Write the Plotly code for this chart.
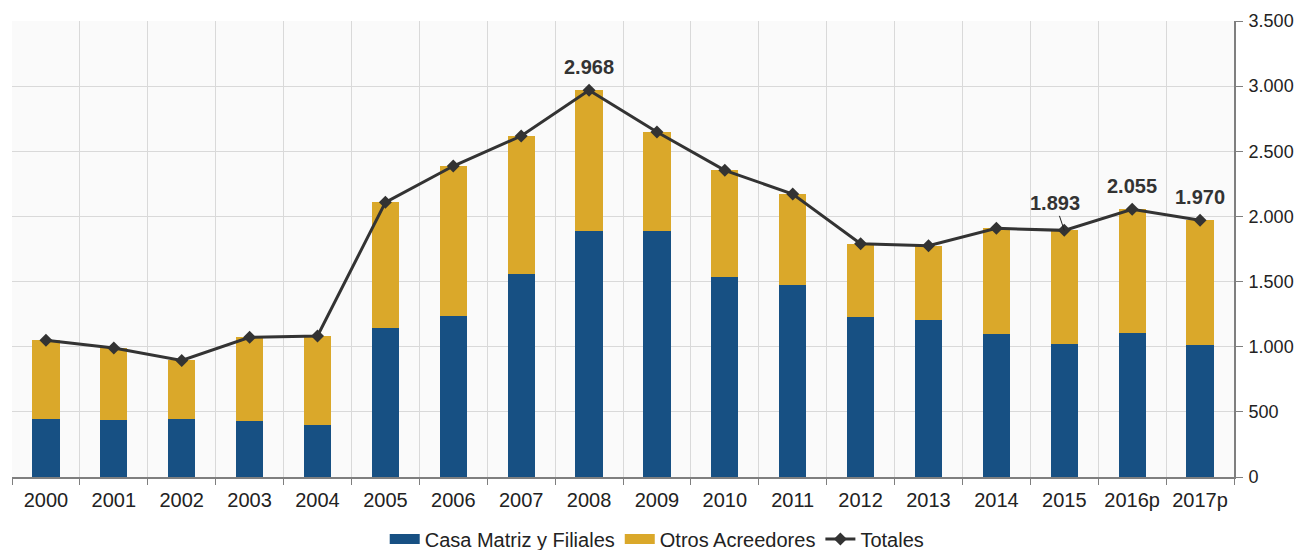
import plotly.graph_objects as go

years = ["2000", "2001", "2002", "2003", "2004", "2005", "2006", "2007", "2008",
         "2009", "2010", "2011", "2012", "2013", "2014", "2015", "2016p", "2017p"]
casa_matriz = [445, 437, 445, 427, 399, 1146, 1236, 1556, 1886, 1890, 1537, 1476,
               1228, 1207, 1100, 1023, 1105, 1013]
otros = [605, 553, 450, 645, 683, 962, 1151, 1061, 1082, 758, 817, 696,
         563, 568, 809, 870, 950, 957]
totales = [1050, 990, 895, 1072, 1082, 2108, 2387, 2617, 2968, 2648, 2354, 2172,
           1791, 1775, 1909, 1893, 2055, 1970]
labeled_years = ["2008", "2015", "2016p", "2017p"]
y_ticks = [0, 500, 1000, 1500, 2000, 2500, 3000, 3500]

BLUE = "#175083"
GOLD = "#DAA82A"
DARK = "#333333"
FONT = "Liberation Sans, Arial, sans-serif"

fig = go.Figure()
fig.add_trace(go.Bar(x=years, y=casa_matriz, name="Casa Matriz y Filiales",
                     marker=dict(color=BLUE, line=dict(width=0)), showlegend=False))
fig.add_trace(go.Bar(x=years, y=otros, name="Otros Acreedores",
                     marker=dict(color=GOLD, line=dict(width=0)), showlegend=False))
fig.add_trace(go.Scatter(x=years, y=totales, name="Totales", mode="lines+markers",
                         line=dict(color=DARK, width=3),
                         marker=dict(symbol="diamond", size=10, color=DARK),
                         showlegend=False))
# legend entries (wide rectangular swatches like the original)
fig.add_trace(go.Scatter(x=[None], y=[None], mode="lines", name="Casa Matriz y Filiales",
                         line=dict(color=BLUE, width=10)))
fig.add_trace(go.Scatter(x=[None], y=[None], mode="lines", name="Otros Acreedores",
                         line=dict(color=GOLD, width=10)))
fig.add_trace(go.Scatter(x=[None], y=[None], mode="lines+markers", name="Totales",
                         line=dict(color=DARK, width=3),
                         marker=dict(symbol="diamond", size=10, color=DARK)))

def fmt(v):
    return f"{v:,}".replace(",", ".")

for yr in labeled_years:
    i = years.index(yr)
    if yr == "2015":
        fig.add_annotation(x=i, y=totales[i], xref="x", yref="y",
                           text="<b>" + fmt(totales[i]) + "</b>",
                           showarrow=True, arrowhead=0, arrowwidth=1, arrowcolor="#222222",
                           ax=-9, ay=-27, standoff=0,
                           font=dict(size=20, color=DARK, family=FONT))
    else:
        fig.add_annotation(x=i, y=totales[i], xref="x", yref="y",
                           text="<b>" + fmt(totales[i]) + "</b>",
                           showarrow=False, yshift=23,
                           font=dict(size=20, color=DARK, family=FONT))

# page body has an 8px margin, so the figure is sized/offset accordingly
fig.update_layout(
    width=1299, height=542,
    barmode="stack", bargap=0.6,
    separators=",.",
    paper_bgcolor="white", plot_bgcolor="#FAFAFA",
    margin=dict(l=4, r=73, t=13, b=73, autoexpand=False),
    font=dict(family=FONT, size=20, color="#222222"),
    showlegend=True,
    legend=dict(orientation="h", x=0.528, xanchor="center", y=-0.179, yanchor="bottom",
                font=dict(size=20, color="#222222"), traceorder="normal",
                itemwidth=30, tracegroupgap=0),
)
fig.update_xaxes(type="category", categoryorder="array", categoryarray=years,
                 range=[-0.5, len(years) - 0.5], autorange=False, automargin=False,
                 tickson="boundaries", showgrid=True, tickangle=0,
                 gridcolor="#D9D9D9", gridwidth=1, showline=True, linecolor="#7F7F7F",
                 linewidth=2, ticks="outside", ticklen=6, tickcolor="#7F7F7F",
                 ticklabelstandoff=4,
                 tickfont=dict(size=20, color="#222222"))
fig.update_yaxes(side="right", range=[0, 3500], tickvals=y_ticks, tickformat=",d",
                 automargin=False,
                 showgrid=True, gridcolor="#D9D9D9", gridwidth=1, zeroline=False,
                 showline=True, linecolor="#7F7F7F", linewidth=2, ticks="outside",
                 ticklen=7, tickcolor="#7F7F7F", ticklabelstandoff=2,
                 tickfont=dict(size=18, color="#222222"))

fig.write_html("out.html")
